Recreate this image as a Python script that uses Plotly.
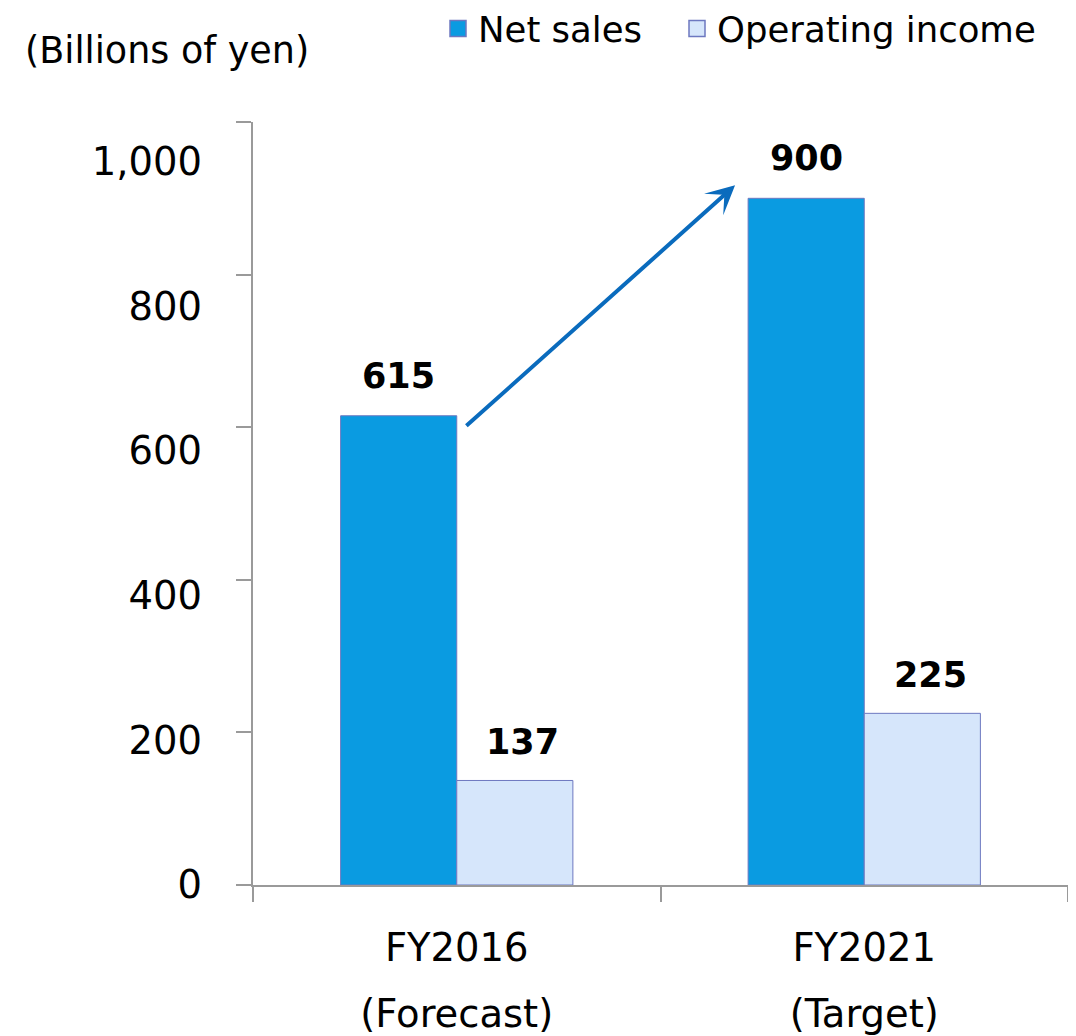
import plotly.graph_objects as go

categories = ["FY2016", "FY2021"]
sub_labels = ["(Forecast)", "(Target)"]
net_sales = [615, 900]
operating_income = [137, 225]
y_ticks = [0, 200, 400, 600, 800, 1000]

FONT = "DejaVu Sans"
BLUE = "#0a9be1"
LIGHT = "#d6e6fb"
EDGE = "#6d78c0"
AXIS = "#9a9a9a"

W, H = 1068, 1028

fig = go.Figure()
fig.add_trace(go.Bar(name="Net sales", x=categories, y=net_sales, showlegend=False,
                     marker=dict(color=BLUE, line=dict(color=EDGE, width=1))))
fig.add_trace(go.Bar(name="Operating income", x=categories, y=operating_income,
                     showlegend=False,
                     marker=dict(color=LIGHT, line=dict(color=EDGE, width=1))))
# legend entries (square swatches), one legend box each
fig.add_trace(go.Scatter(name="Net sales", x=[None], y=[None], mode="markers",
                         legend="legend",
                         marker=dict(symbol="square", size=16, color=BLUE,
                                     line=dict(color=EDGE, width=1.5))))
fig.add_trace(go.Scatter(name="Operating income", x=[None], y=[None], mode="markers",
                         legend="legend2",
                         marker=dict(symbol="square", size=16, color=LIGHT,
                                     line=dict(color=EDGE, width=1.5))))
# invisible trace to activate label-only axes
fig.add_trace(go.Scatter(x=categories, y=[None, None], xaxis="x2", yaxis="y2",
                         showlegend=False, hoverinfo="skip"))

annotations = []
for i, v in enumerate(net_sales):
    annotations.append(dict(x=i, y=v, xref="x", yref="y", text=f"<b>{v}</b>",
                            showarrow=False, xshift=-58, yshift=40, yanchor="middle",
                            font=dict(family=FONT, size=35, color="black")))
for i, v in enumerate(operating_income):
    annotations.append(dict(x=i, y=v, xref="x", yref="y", text=f"<b>{v}</b>",
                            showarrow=False, xshift=66, yshift=38, yanchor="middle",
                            font=dict(family=FONT, size=35, color="black")))
# growth arrow
annotations.append(dict(x=0.683, y=917, ax=0.02, ay=600, xref="x", yref="y",
                        axref="x", ayref="y", text="", showarrow=True,
                        arrowhead=3, arrowsize=1.2, arrowwidth=4, arrowcolor="#0a6bbd",
                        standoff=0, startstandoff=0))

legend_common = dict(orientation="h", xref="container", yref="container",
                     xanchor="left", y=1-21/H, yanchor="middle",
                     font=dict(family=FONT, size=35.5, color="black"),
                     itemwidth=30, bgcolor="rgba(0,0,0,0)")

fig.update_layout(
    width=W, height=H,
    margin=dict(l=245, r=8, t=114, b=151, autoexpand=False),
    paper_bgcolor="white", plot_bgcolor="white",
    barmode="group", bargap=0.43, bargroupgap=0,
    font=dict(family=FONT, color="black"),
    title=dict(text="(Billions of yen)", xref="container", yref="container",
               x=17/W, xanchor="left", y=1-42/H, yanchor="middle",
               font=dict(family=FONT, size=36.5, color="black")),
    legend=dict(x=430/W, **legend_common),
    legend2=dict(x=669/W, **legend_common),
    xaxis=dict(type="category", range=[-0.5, 1.5], showline=True, linecolor=AXIS,
               linewidth=1.5, ticks="outside", tickson="boundaries", ticklen=15,
               tickcolor=AXIS, tickwidth=1.5, showgrid=False, ticklabelstandoff=28,
               automargin=False,
               tickfont=dict(family=FONT, size=38.5, color="black")),
    xaxis2=dict(type="category", overlaying="x", side="bottom", anchor="y",
                range=[-0.5, 1.5], tickvals=[0, 1], ticktext=sub_labels,
                showline=False, ticks="", showgrid=False, ticklabelstandoff=102,
                automargin=False,
                tickfont=dict(family=FONT, size=38.5, color="black")),
    yaxis=dict(range=[0, 1000], tickvals=y_ticks, showticklabels=False,
               showline=True, linecolor=AXIS, linewidth=1.5, ticks="outside",
               ticklen=15, tickcolor=AXIS, tickwidth=1.5, showgrid=False,
               zeroline=False, automargin=False),
    yaxis2=dict(overlaying="y", side="left", anchor="x",
                range=[0, 1000 * 763 / 723.5], tickvals=y_ticks, tickformat=",",
                showline=False, ticks="", showgrid=False, zeroline=False,
                ticklabelstandoff=50, automargin=False,
                tickfont=dict(family=FONT, size=38.5, color="black")),
    annotations=annotations,
)
fig.write_html("out.html")
